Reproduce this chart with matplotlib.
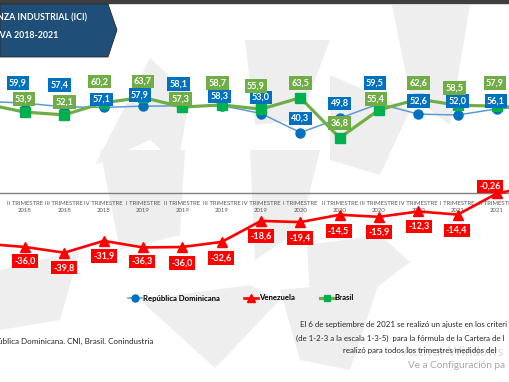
import matplotlib
matplotlib.use('Agg')
import matplotlib.pyplot as plt
from matplotlib.patches import Polygon
from matplotlib.lines import Line2D

plt.rcParams['font.family'] = ['Lato', 'DejaVu Sans']

# data (first and last quarter lie outside the visible crop)
quarters = ['I TRIMESTRE\n2018', 'II TRIMESTRE\n2018', 'III TRIMESTRE\n2018', 'IV TRIMESTRE\n2018',
            'I TRIMESTRE\n2019', 'II TRIMESTRE\n2019', 'III TRIMESTRE\n2019', 'IV TRIMESTRE\n2019',
            'I TRIMESTRE\n2020', 'II TRIMESTRE\n2020', 'III TRIMESTRE\n2020', 'IV TRIMESTRE\n2020',
            'I TRIMESTRE\n2021', 'II TRIMESTRE\n2021', 'III TRIMESTRE\n2021']
rep_dom = [61.1, 59.9, 57.4, 57.1, 57.9, 58.1, 58.3, 53.0, 40.3, 49.8, 59.5, 52.6, 52.0, 56.1, 58.0]
venezuela = [-33.9, -36.0, -39.8, -31.9, -36.3, -36.0, -32.6, -18.6, -19.4, -14.5, -15.9, -12.3, -14.4, -0.26, 5.0]
brasil = [59.3, 53.9, 52.1, 60.2, 63.7, 57.3, 58.7, 55.9, 63.5, 36.8, 55.4, 62.6, 58.5, 57.9, 56.3]

# label offsets (pixels) for the visible points, index 1..13
off_rd = [(-7, 20), (-5, 22), (-2, 8), (-3, 11), (-4, 22), (-2, 9), (0, 16), (0, 14), (0, 15),
          (-4, 21), (0, 13), (0, 14), (-1, 8)]
off_br = [(-1, 13), (0, 13), (-4, 21), (0, 16), (-2, 8), (-4, 22), (-5, 23), (0, 15), (0, 15),
          (-3, 11), (0, 16), (-3, 17), (-2, 23)]
off_ve = [(0, -14), (0, -15), (0, -15), (-1, -14), (0, -16), (-1, -16), (0, -15), (0, -16),
          (-1, -16), (0, -15), (1, -15), (-1, -16), (-7, 7)]

W, H = 510, 382
fig = plt.figure(figsize=(W / 100, H / 100), dpi=100)

# background decorations in pixel coordinates
bg = fig.add_axes([0, 0, 1, 1])
bg.set_xlim(0, W)
bg.set_ylim(H, 0)
bg.axis('off')
grey = '#eeeeee'
shapes = [
    [(95, 165), (150, 58), (190, 95), (178, 165), (150, 140)],
    [(245, 40), (330, 40), (300, 120), (255, 125)],
    [(330, 75), (410, 110), (380, 175), (330, 160)],
    [(392, 5), (470, 5), (450, 125), (410, 95)],
    [(100, 150), (185, 150), (180, 235), (120, 250)],
    [(250, 150), (320, 150), (300, 230), (255, 260)],
    [(307, 245), (380, 235), (410, 262), (360, 300), (310, 300)],
    [(140, 300), (250, 285), (280, 300), (215, 368)],
    [(280, 290), (380, 280), (350, 370), (300, 360)],
    [(0, 270), (80, 250), (60, 320), (0, 330)],
]
for s in shapes:
    bg.add_patch(Polygon(s, closed=True, facecolor=grey, edgecolor='none'))

bg.axhspan(0, 3, color='#3f3f3f')
bg.add_patch(Polygon([(0, 4), (108, 4), (117, 30), (108, 57), (0, 57)], closed=True,
                     facecolor='#1f4e79', edgecolor='#2b2b2b', linewidth=0.6))
bg.text(-3, 18, 'NZA INDUSTRIAL (ICI)', color='white', fontsize=6.3, fontweight='bold', va='center', ha='left')
bg.text(-3, 35, 'IVA 2018-2021', color='white', fontsize=6.3, fontweight='bold', va='center', ha='left')

# chart
ax = fig.add_axes([0, 0, 1, 1])
ax.patch.set_alpha(0)
ax.axis('off')
x0, dx = -14.3, 39.33
ax.set_xlim((0 - x0) / dx, (W - x0) / dx)
ax.set_ylim((193 - H) / 1.5, 193 / 1.5)

xs = list(range(len(quarters)))
ax.axhline(0, color='#7f7f7f', linewidth=1.0, zorder=1)
for i, q in enumerate(quarters):
    ax.annotate(q, (i, 0), xytext=(0, -8), textcoords='offset pixels', ha='center', va='top',
                fontsize=4.3, color='#595959', linespacing=1.5)

ax.plot(xs, rep_dom, color='#5b9bd5', linewidth=1.1, marker='o', markersize=6.5,
        markerfacecolor='#0070c0', markeredgecolor='#0070c0', zorder=3)
ax.plot(xs, brasil, color='#70ad47', linewidth=2.3, marker='s', markersize=6.5,
        markerfacecolor='#00b050', markeredgecolor='#00b050', zorder=4)
ax.plot(xs, venezuela, color='#ff0000', linewidth=1.9, marker='^', markersize=7,
        markerfacecolor='#ff0000', markeredgecolor='#ff0000', zorder=4)


def fmt(v):
    return str(v).replace('.', ',')


def add_labels(vals, offs, color):
    for i in range(1, 14):
        ax.annotate(fmt(vals[i]), (i, vals[i]), xytext=offs[i - 1], textcoords='offset pixels',
                    ha='center', va='center', fontsize=6.6, fontweight='bold', color='white', zorder=6,
                    bbox=dict(boxstyle='square,pad=0.25', facecolor=color, edgecolor='none'))


add_labels(rep_dom, off_rd, '#0070c0')
add_labels(brasil, off_br, '#70ad47')
add_labels(venezuela, off_ve, '#ff0000')

handles = [
    Line2D([], [], color='#5b9bd5', linewidth=1.1, marker='o', markersize=5, markerfacecolor='#0070c0',
           markeredgecolor='#0070c0'),
    Line2D([], [], color='#ff0000', linewidth=1.9, marker='^', markersize=5.5, markerfacecolor='#ff0000',
           markeredgecolor='#ff0000'),
    Line2D([], [], color='#70ad47', linewidth=2.3, marker='s', markersize=5, markerfacecolor='#00b050',
           markeredgecolor='#00b050'),
]
ax.legend(handles, ['República Dominicana', 'Venezuela', 'Brasil'], loc='center',
          bbox_to_anchor=(241 / W, 1 - 298 / H), ncol=3, frameon=False,
          prop={'size': 5.6, 'weight': 'bold'}, handlelength=1.8, handletextpad=0.1, columnspacing=3.2)

# footnotes
bg.text(-2, 341, 'ública Dominicana. CNI, Brasil. Conindustria', fontsize=5.8, color='#262626',
        va='center', ha='left')
bg.text(300, 325, 'El 6 de septiembre de 2021 se realizó un ajuste en los criteri', fontsize=5.7,
        color='#262626', va='center', ha='left')
bg.text(296, 338, '(de 1-2-3 a la escala 1-3-5)  para la fórmula de la Cartera de I', fontsize=5.7,
        color='#262626', va='center', ha='left')
bg.text(343, 350, 'realizó para todos los trimestres medidos del', fontsize=5.7, color='#262626',
        va='center', ha='left')
bg.text(403, 352, 'Activar Windows', fontsize=9.5, color='#dddddd', va='center', ha='left', zorder=0)
bg.text(408, 366, 'Ve a Configuración pa', fontsize=7.2, color='#a6a6a6', va='center', ha='left')

fig.savefig('out.png', dpi=100)
